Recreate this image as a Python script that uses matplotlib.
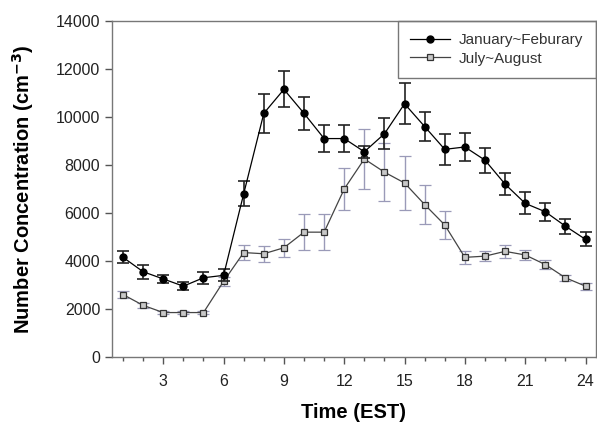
import matplotlib
matplotlib.use("Agg")
import matplotlib.pyplot as plt
from matplotlib.ticker import MultipleLocator

plt.rcParams["font.family"] = ["Liberation Sans", "DejaVu Sans"]

hours = list(range(1, 25))

jan_feb = [4150, 3550, 3250, 2950, 3300, 3400, 6800, 10150, 11150, 10150, 9100, 9100,
           8550, 9300, 10550, 9600, 8650, 8750, 8200, 7200, 6400, 6050, 5450, 4900]
jan_feb_err = [250, 300, 180, 180, 250, 250, 530, 800, 750, 700, 550, 550,
               250, 650, 850, 600, 650, 570, 520, 470, 460, 370, 310, 290]

jul_aug = [2600, 2150, 1850, 1850, 1850, 3150, 4350, 4300, 4550, 5200, 5200, 7000,
           8250, 7700, 7250, 6350, 5500, 4150, 4200, 4400, 4250, 3850, 3300, 2950]
jul_aug_err = [150, 100, 80, 80, 80, 200, 310, 330, 375, 760, 760, 890,
               1250, 1200, 1130, 820, 580, 280, 200, 280, 200, 200, 120, 150]

fig = plt.figure(figsize=(5.97, 4.28), dpi=100)
ax = fig.add_axes([0.1876, 0.166, 0.81, 0.785])

summer = ax.errorbar(hours, jul_aug, yerr=jul_aug_err, fmt="s-", color="#444444", lw=0.9,
                     ms=4.5, mfc="#c8c8c8", mec="#333333", mew=0.9,
                     ecolor="#9a9ab8", elinewidth=1.0, capsize=4, capthick=1.0,
                     label="July~August", zorder=2)
winter = ax.errorbar(hours, jan_feb, yerr=jan_feb_err, fmt="o-", color="black", lw=0.9,
                     ms=5, mfc="black", mec="black",
                     ecolor="#222222", elinewidth=1.2, capsize=4, capthick=1.2,
                     label="January~Feburary", zorder=3)

ax.set_xlim(0.45, 24.5)
ax.set_ylim(0, 14000)
ax.xaxis.set_minor_locator(MultipleLocator(1))
ax.yaxis.set_major_locator(MultipleLocator(2000))
ax.set_xticks([3, 6, 9, 12, 15, 18, 21, 24])
ax.tick_params(axis="both", which="major", direction="out", length=5, width=1,
               colors="#555555", labelcolor="#222222", labelsize=11.5)
ax.tick_params(axis="x", which="major", pad=7)
ax.tick_params(axis="x", which="minor", direction="out", length=3, width=1,
               colors="#555555")
for s in ax.spines.values():
    s.set_color("#777777")
    s.set_linewidth(1.0)

ax.set_xlabel("Time (EST)", fontsize=14.5, fontweight="bold", labelpad=10)
ax.set_ylabel("Number Concentration (cm$^{\\mathbf{-3}}$)", fontsize=14.5,
              fontweight="bold", labelpad=14)

# legend shows only line + marker, no error bars
leg = ax.legend([winter[0], summer[0]], ["January~Feburary", "July~August"],
                loc="upper right", fontsize=11, frameon=True, fancybox=False,
                borderaxespad=0, handlelength=2.6, handletextpad=0.6,
                borderpad=0.8, labelspacing=0.3)
leg.get_frame().set_edgecolor("#555555")
leg.get_frame().set_linewidth(1.0)
leg.set_zorder(1)
for t in leg.get_texts():
    t.set_color("#333333")

fig.savefig("out.png", dpi=100)
